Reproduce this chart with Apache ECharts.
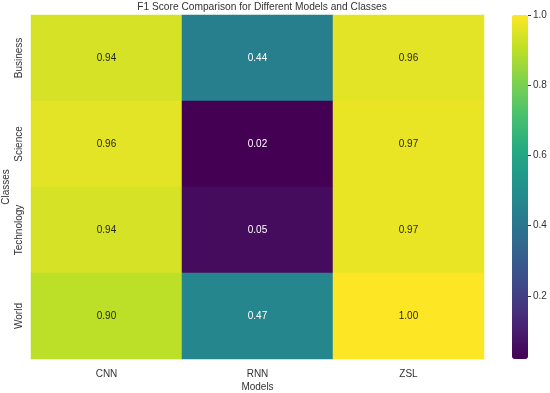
<!DOCTYPE html>
<html><head><meta charset="utf-8">
<script src="https://cdn.jsdelivr.net/npm/echarts@6/dist/echarts.min.js"></script>
<style>html,body{margin:0;padding:0;background:#fff}#c{width:550px;height:393px}</style>
</head><body><div id="c"></div>
<script>
const models = ['CNN', 'RNN', 'ZSL'];
const classes = ['Business', 'Science', 'Technology', 'World'];
const business = [0.94, 0.44, 0.96];
const science = [0.96, 0.02, 0.97];
const technology = [0.94, 0.05, 0.97];
const world = [0.90, 0.47, 1.00];
const colorbarTicks = [0.2, 0.4, 0.6, 0.8, 1.0];

const rows = [business, science, technology, world];
const data = [];
rows.forEach((r, yi) => r.forEach((v, xi) => data.push([xi, yi, v])));
const allVals = data.map(d => d[2]);
const vmin = Math.min(...allVals), vmax = Math.max(...allVals);
const viridis = ['#440154','#482475','#414487','#355f8d','#2a788e','#21918c','#22a884','#44bf70','#7ad151','#bddf26','#fde725'];
const FONT = 'Liberation Sans';
const TXT = '#333333';

const chart = echarts.init(document.getElementById('c'), null, {renderer: 'canvas'});
chart.setOption({
  animation: false,
  textStyle: {fontFamily: FONT},
  title: {
    text: 'F1 Score Comparison for Different Models and Classes',
    left: 257, top: -3, textAlign: 'center',
    textStyle: {fontFamily: FONT, fontSize: 10.2, fontWeight: 'normal', color: TXT}
  },
  grid: [
    {left: 31, right: 66, top: 15, bottom: 34, outerBoundsMode: 'none', containLabel: false},
    {left: 512, width: 16, top: 15, bottom: 34, outerBoundsMode: 'none', containLabel: false}
  ],
  xAxis: [
    {type: 'category', data: models, gridIndex: 0,
     axisLine: {show: false}, axisTick: {show: false}, splitLine: {show: false},
     axisLabel: {fontSize: 10, color: TXT, margin: 10, fontFamily: FONT},
     name: 'Models', nameLocation: 'middle', nameGap: 23, nameMoveOverlap: false,
     nameTextStyle: {fontSize: 10, color: TXT, fontFamily: FONT}},
    {type: 'value', gridIndex: 1, show: false, min: 0, max: 1}
  ],
  yAxis: [
    {type: 'category', data: classes, gridIndex: 0, inverse: true,
     axisLine: {show: false}, axisTick: {show: false}, splitLine: {show: false},
     axisLabel: {fontSize: 10, color: TXT, rotate: 90, margin: 7, fontFamily: FONT},
     name: 'Classes', nameLocation: 'middle', nameGap: 20, nameRotate: 90, nameMoveOverlap: false,
     nameTextStyle: {fontSize: 10, color: TXT, fontFamily: FONT}},
    {type: 'value', gridIndex: 1, position: 'right', min: vmin, max: vmax, z: 20,
     axisLine: {show: false, onZero: false}, splitLine: {show: false},
     axisTick: {show: true, inside: false, length: 3, lineStyle: {color: '#333', width: 1}, customValues: colorbarTicks},
     axisLabel: {fontSize: 10, color: TXT, margin: 5, fontFamily: FONT,
       customValues: colorbarTicks, formatter: v => v.toFixed(1)}}
  ],
  visualMap: {
    type: 'continuous', min: vmin, max: vmax, calculable: false, seriesIndex: 0,
    inRange: {color: viridis},
    orient: 'vertical', left: 512, top: 15, padding: 0, z: 1,
    itemWidth: 16, itemHeight: 344, showLabel: false, text: null
  },
  series: [{
    type: 'heatmap', xAxisIndex: 0, yAxisIndex: 0,
    data: data.map(d => ({value: d, label: {color: (d[2] < 0.6) ? '#ffffff' : '#262626'}})),
    label: {
      show: true, fontSize: 10, fontFamily: FONT,
      formatter: p => p.value[2].toFixed(2)
    },
    itemStyle: {borderWidth: 0},
    emphasis: {disabled: true}
  }]
});
</script></body></html>
